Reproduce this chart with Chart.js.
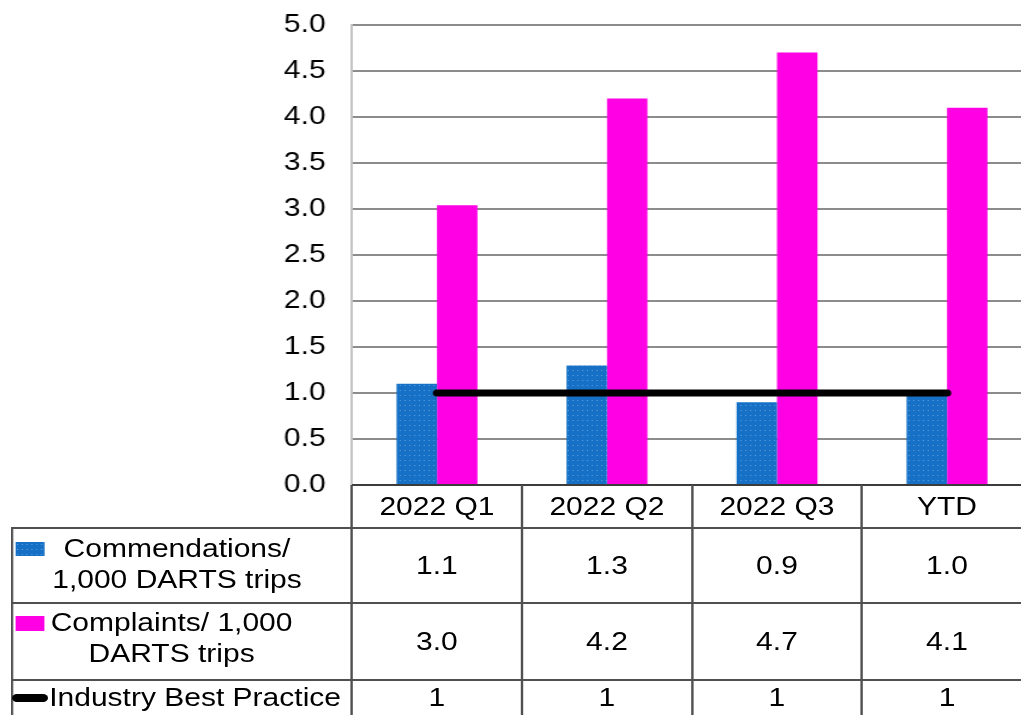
<!DOCTYPE html>
<html>
<head>
<meta charset="utf-8">
<script src="https://cdn.jsdelivr.net/npm/chart.js@4.4.0/dist/chart.umd.min.js"></script>
<style>
  html, body { margin: 0; padding: 0; background: #fff; overflow: hidden; width: 1021px; height: 715px; }
  /* the reference is stretched horizontally, so the whole stage is too */
  #stage { position: absolute; left: 0; top: 0; width: 860px; height: 715px;
           transform: scaleX(1.2); transform-origin: 0 0;
           font-family: "Liberation Sans", Arial, sans-serif; color: #000; }
  #chart { position: absolute; left: 0; top: -12px; }
  .cell { position: absolute; box-sizing: border-box; display: flex; align-items: center;
          justify-content: center; font-size: 25px; line-height: 31px; text-align: center; white-space: nowrap; }
  .rule { position: absolute; background: #505050; }
  .key { position: absolute; }
</style>
</head>
<body>
<div id="stage">
  <canvas id="chart" width="860" height="534" style="width:860px;height:534px"></canvas>
</div>
<script>
// Chart data
const categories = ['2022 Q1', '2022 Q2', '2022 Q3', 'YTD'];
const commendations = [1.1, 1.3, 0.9, 1.0];
const complaints = [3.04, 4.2, 4.7, 4.1];
const bestPractice = [1, 1, 1, 1];
const seriesNames = ['Commendations/ 1,000 DARTS trips', 'Complaints/ 1,000 DARTS trips', 'Industry Best Practice'];

const BLUE = '#1570c6';
const MAGENTA = '#ff00e4';
const CANVAS_TOP = -12;

// dotted fill for the commendations bars
function makeDotPattern() {
  const c = document.createElement('canvas');
  c.width = 4;
  c.height = 5;
  const g = c.getContext('2d');
  g.fillStyle = BLUE;
  g.fillRect(0, 0, 4, 5);
  g.fillStyle = '#5d9ddc';
  g.fillRect(1, 2, 1, 1);
  return c;
}
const dotCanvas = makeDotPattern();
const ctx = document.getElementById('chart').getContext('2d');
const dotPattern = ctx.createPattern(dotCanvas, 'repeat');

const chart = new Chart(ctx, {
  type: 'bar',
  data: {
    labels: categories,
    datasets: [
      {
        label: seriesNames[0],
        data: commendations,
        backgroundColor: dotPattern,
        borderWidth: 0,
        order: 1
      },
      {
        label: seriesNames[1],
        data: complaints,
        backgroundColor: MAGENTA,
        borderWidth: 0,
        order: 1
      },
      {
        type: 'line',
        label: seriesNames[2],
        data: bestPractice,
        borderColor: '#000',
        borderWidth: 7,
        borderCapStyle: 'round',
        pointRadius: 0,
        fill: false,
        order: 0
      }
    ]
  },
  options: {
    responsive: false,
    maintainAspectRatio: false,
    devicePixelRatio: 1,
    animation: false,
    layout: { padding: { top: 13, bottom: 15, left: 0, right: 0 } },
    categoryPercentage: 0.476,
    barPercentage: 1,
    plugins: {
      legend: { display: false },
      tooltip: { enabled: false }
    },
    scales: {
      x: { display: false },
      y: {
        min: 0,
        max: 5,
        afterFit: scale => { scale.width = 293.3; },
        ticks: {
          stepSize: 0.5,
          padding: 22,
          color: '#000',
          font: { family: '"Liberation Sans", Arial, sans-serif', size: 25 },
          callback: v => v.toFixed(1)
        },
        grid: { color: '#8c8c8c', lineWidth: 2, drawTicks: false },
        border: { color: '#c4c4c4', width: 2 }
      }
    }
  }
});

// Data table under the plot, lined up with the x scale
function buildTable(chart) {
  const stage = document.getElementById('stage');
  const area = chart.chartArea;
  const xs = chart.scales.x;
  const colW = (area.right - area.left) / categories.length;
  const axisY = area.bottom + CANVAS_TOP;
  const tableLeft = 10;
  const bottom = 720;

  const rows = [
    { top: axisY, bottom: 528, values: categories },
    { top: 528, bottom: 603, values: commendations.map(v => v.toFixed(1)) },
    { top: 603, bottom: 680, values: complaints.map(v => v.toFixed(1)) },
    { top: 680, bottom: 715, values: bestPractice.map(v => String(v)) }
  ];

  function rule(left, top, width, height, color) {
    const d = document.createElement('div');
    d.className = 'rule';
    d.style.left = left + 'px';
    d.style.top = top + 'px';
    d.style.width = width + 'px';
    d.style.height = height + 'px';
    if (color) d.style.background = color;
    stage.appendChild(d);
  }

  function cell(left, top, width, height, html, extra) {
    const d = document.createElement('div');
    d.className = 'cell';
    d.style.left = left + 'px';
    d.style.top = top + 'px';
    d.style.width = width + 'px';
    d.style.height = height + 'px';
    d.innerHTML = html;
    if (extra) Object.assign(d.style, extra);
    stage.appendChild(d);
  }

  // value cells
  rows.forEach(r => {
    r.values.forEach((v, i) => {
      const cx = xs.getPixelForValue(i);
      cell(cx - colW / 2, r.top, colW, r.bottom - r.top, v);
    });
  });

  // horizontal rules
  rule(area.left, axisY - 1, 860 - area.left, 2, '#3c3c3c');
  rule(tableLeft, 527, 860 - tableLeft, 2);
  rule(tableLeft, 602, 860 - tableLeft, 2);
  rule(tableLeft, 679, 860 - tableLeft, 2);
  // vertical rules
  rule(tableLeft - 1, 527, 2, bottom - 527);
  for (let i = 0; i <= categories.length; i++) {
    rule(area.left + i * colW - 1, axisY, 2, bottom - axisY);
  }

  // series labels with legend keys
  cell(38, 530, 219, 72, 'Commendations/<br>1,000 DARTS trips', { paddingBottom: '4px' });
  cell(38, 604, 210, 75, 'Complaints/ 1,000<br>DARTS trips', { paddingBottom: '8px' });
  cell(41, 680, 252, 35, seriesNames[2], { justifyContent: 'flex-start' });

  const k1 = document.createElement('div');
  k1.className = 'key';
  Object.assign(k1.style, { left: '13px', top: '542px', width: '24px', height: '14px',
    backgroundImage: 'url(' + dotCanvas.toDataURL() + ')' });
  stage.appendChild(k1);

  const k2 = document.createElement('div');
  k2.className = 'key';
  Object.assign(k2.style, { left: '13px', top: '616px', width: '24px', height: '15px', background: MAGENTA });
  stage.appendChild(k2);

  const k3 = document.createElement('div');
  k3.className = 'key';
  Object.assign(k3.style, { left: '10px', top: '694px', width: '30px', height: '8px',
    background: '#000', borderRadius: '4px' });
  stage.appendChild(k3);
}

buildTable(chart);
</script>
</body>
</html>
